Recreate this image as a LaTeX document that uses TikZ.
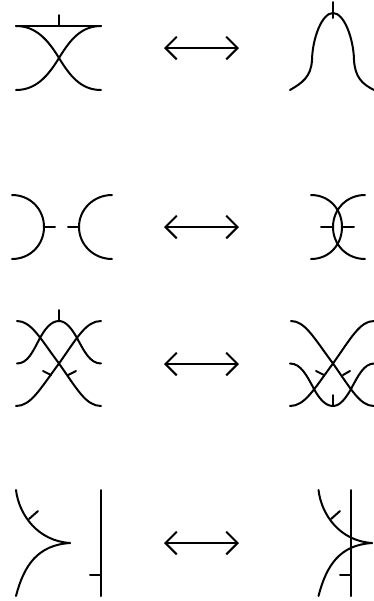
\documentclass[tikz,border=0pt]{standalone}
\usetikzlibrary{arrows.meta}
\tikzset{
  px/.style={x=0.75pt,y=-0.75pt},
  ln/.style={line width=1.5pt,black,line cap=round,line join=round},
  dbl/.style={ln,{Straight Barb[length=8.5pt,width=17pt,line width=1.5pt]}-{Straight Barb[length=8.5pt,width=17pt,line width=1.5pt]}}
}
\begin{document}
\begin{tikzpicture}[px]
\useasboundingbox (0,0) rectangle (374,601);
% arrows
\foreach \y in {48,227,364,543} \draw[dbl] (164,\y) -- (239,\y);
% row 1 left
\draw[ln] (16,26) -- (101,26);
\draw[ln] (59,15) -- (59,26);
\draw[ln] (16,26) .. controls (36,26) and (48,40) .. (59,58) .. controls (70,76) and (81,90) .. (101,90);
\draw[ln] (101,26) .. controls (81,26) and (70,40) .. (59,58) .. controls (48,76) and (36,90) .. (16,90);
% row 1 right
\draw[ln] (290,90) .. controls (302,83) and (311,77) .. (312,60)
  .. controls (312.5,38) and (322,13) .. (333,13)
  .. controls (344,13) and (353.5,38) .. (354,60)
  .. controls (355,77) and (362,84) .. (374,90);
\draw[ln] (333,2) -- (333,18);
% row 2 left
\draw[ln] (12,195) .. controls (30,195) and (44,209) .. (44,227) .. controls (44,245) and (30,259) .. (12,259);
\draw[ln] (112,195) .. controls (94,195) and (79,209) .. (79,227) .. controls (79,245) and (94,259) .. (112,259);
\draw[ln] (44,227) -- (55,227);
\draw[ln] (68,227) -- (79,227);
% row 2 right
\draw[ln] (311,195) .. controls (329,195) and (342,209) .. (342,227) .. controls (342,245) and (329,259) .. (311,259);
\draw[ln] (365,195) .. controls (347,195) and (333,209) .. (333,227) .. controls (333,245) and (347,259) .. (365,259);
\draw[ln] (321,227) -- (333,227);
\draw[ln] (342,227) -- (354,227);
% row 3 left
\draw[ln] (17,321) .. controls (31,321) and (40,338) .. (59,363.5) .. controls (77,389) and (86,406) .. (101,406);
\draw[ln] (101,321) .. controls (86,321) and (77,338) .. (59,363.5) .. controls (40,389) and (31,406) .. (16,406);
\draw[ln] (17,363.5) .. controls (28,363.5) and (33,351) .. (40,338) .. controls (45,329) and (51,321) .. (59,321)
  .. controls (66,321) and (72,329) .. (77,338) .. controls (84,351) and (90,363.5) .. (101,363.5);
\draw[ln] (59,310) -- (59,321);
\draw[ln] (43,371) -- (51,375);
\draw[ln] (76,371) -- (68,375);
% row 3 right
\draw[ln] (291,321) .. controls (305,321) and (314,338) .. (333,363.5) .. controls (351,389) and (360,406) .. (374,406);
\draw[ln] (374,321) .. controls (360,321) and (351,338) .. (333,363.5) .. controls (314,389) and (305,406) .. (290,406);
\draw[ln] (290,363.5) .. controls (301,363.5) and (307,376) .. (314,389) .. controls (319,398) and (325,406) .. (333,406)
  .. controls (340,406) and (346,398) .. (351,389) .. controls (358,376) and (364,363.5) .. (374,363.5);
\draw[ln] (333,395) -- (333,406);
\draw[ln] (316,371) -- (324,375);
\draw[ln] (350,371) -- (343,375);
% row 4 left
\draw[ln] (16,490) .. controls (19,515) and (38,541) .. (70,543);
\draw[ln] (16,596) .. controls (24,565) and (38,545) .. (70,543);
\draw[ln] (29,519) -- (38,511);
\draw[ln] (101,490) -- (101,596);
\draw[ln] (90,575) -- (101,575);
% row 4 right
\draw[ln] (318.5,490) .. controls (321.5,515) and (340,541) .. (372,543);
\draw[ln] (318.5,596) .. controls (326.5,565) and (340,545) .. (372,543);
\draw[ln] (331,519) -- (340,511);
\draw[ln] (351,490) -- (351,596);
\draw[ln] (340,575) -- (351,575);
\end{tikzpicture}
\end{document}
